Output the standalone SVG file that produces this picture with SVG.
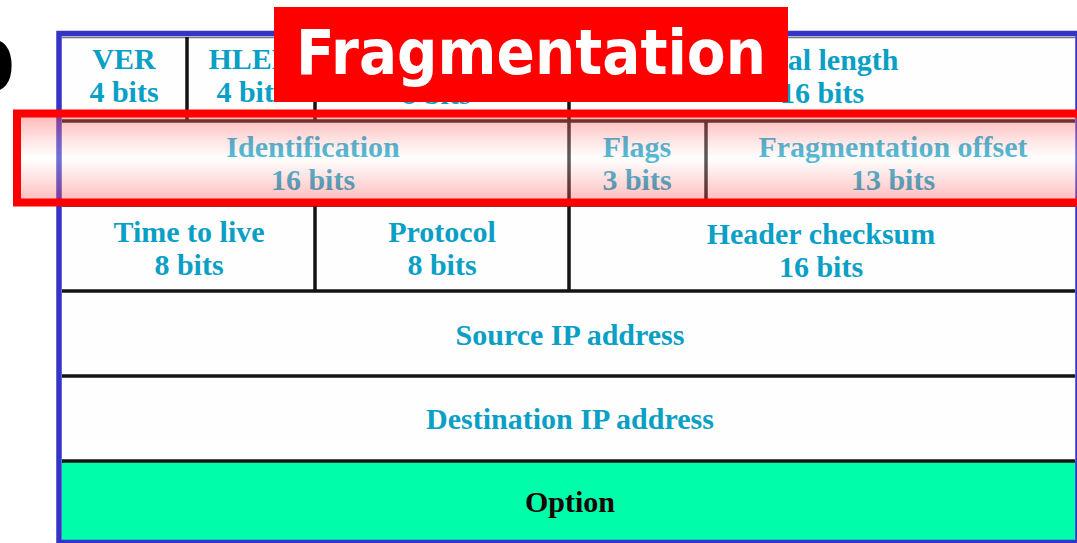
<svg xmlns="http://www.w3.org/2000/svg" width="1077" height="543" viewBox="0 0 1077 543">
  <defs>
    <style>
      .cell { fill: #fefefe; }
      .fld { font-family: "Liberation Serif", "Times New Roman", serif; font-weight: bold; font-size: 30px; fill: #0a9fc5; text-anchor: middle; }
      .opt { fill: #1a0303; }
      .rule { stroke: #141414; stroke-width: 3.5; fill: none; }
      .title { font-family: "DejaVu Sans", Verdana, sans-serif; font-weight: bold; font-size: 62px; fill: #ffffff; }
    </style>
    <linearGradient id="glow" x1="0" y1="0" x2="0" y2="1">
      <stop offset="0" stop-color="#ff3c3c" stop-opacity="0.4"/>
      <stop offset="0.5" stop-color="#ffffff" stop-opacity="0.3"/>
      <stop offset="1" stop-color="#ff3c3c" stop-opacity="0.36"/>
    </linearGradient>
  </defs>

  <rect x="0" y="0" width="1077" height="543" fill="#ffffff"/>

  <!-- cut-off glyph at the left edge -->
  <text x="15" y="91" text-anchor="end" font-family="DejaVu Sans, sans-serif" font-weight="bold" font-size="70" fill="#000000">0</text>

  <!-- header table frame and row backgrounds -->
  <g id="table-frame">
    <rect class="cell" x="62" y="36" width="1014" height="425"/>
    <rect x="62" y="461" width="1014" height="80" fill="#00fdaa"/>
    <rect x="59" y="33.5" width="1019" height="509" fill="none" stroke="#3434c8" stroke-width="5.5"/>
    <line x1="62" y1="37.5" x2="1075" y2="37.5" stroke="#7a7a7a" stroke-width="1.5"/>
  </g>

  <!-- grid lines between the header fields -->
  <g id="grid-lines" class="rule">
    <line x1="62" y1="121" x2="1075" y2="121"/>
    <line x1="62" y1="205" x2="1075" y2="205"/>
    <line x1="62" y1="291" x2="1075" y2="291"/>
    <line x1="62" y1="376" x2="1075" y2="376"/>
    <line x1="62" y1="461" x2="1075" y2="461"/>
    <line x1="187" y1="37" x2="187" y2="121"/>
    <line x1="315" y1="37" x2="315" y2="121"/>
    <line x1="569" y1="37" x2="569" y2="121"/>
    <line x1="569" y1="121" x2="569" y2="205"/>
    <line x1="706" y1="121" x2="706" y2="205"/>
    <line x1="315" y1="205" x2="315" y2="291"/>
    <line x1="569" y1="205" x2="569" y2="291"/>
  </g>

  <g id="ver"><text class="fld" x="124" y="69">VER</text><text class="fld" x="124" y="102">4 bits</text></g>
  <g id="hlen"><text class="fld" x="251" y="69">HLEN</text><text class="fld" x="251" y="102">4 bits</text></g>
  <g id="service"><text class="fld" x="436" y="104">8 bits</text></g>
  <g id="total-length"><text class="fld" x="822" y="70">Total length</text><text class="fld" x="822" y="103">16 bits</text></g>

  <g id="identification"><text class="fld" x="313" y="157">Identification</text><text class="fld" x="313" y="190">16 bits</text></g>
  <g id="flags"><text class="fld" x="637" y="157">Flags</text><text class="fld" x="637" y="190">3 bits</text></g>
  <g id="frag-offset"><text class="fld" x="893" y="157">Fragmentation offset</text><text class="fld" x="893" y="190">13 bits</text></g>

  <g id="ttl"><text class="fld" x="189" y="242">Time to live</text><text class="fld" x="189" y="275">8 bits</text></g>
  <g id="protocol"><text class="fld" x="442" y="242">Protocol</text><text class="fld" x="442" y="275">8 bits</text></g>
  <g id="checksum"><text class="fld" x="821" y="244">Header checksum</text><text class="fld" x="821" y="277">16 bits</text></g>

  <g id="source-ip"><text class="fld" x="570" y="345">Source IP address</text></g>
  <g id="destination-ip"><text class="fld" x="570" y="429">Destination IP address</text></g>
  <g id="option"><text class="fld opt" x="570" y="512">Option</text></g>

  <!-- highlight over the fragmentation row -->
  <g id="highlight">
    <rect x="17" y="113.5" width="1075" height="89" fill="url(#glow)" stroke="#ff0000" stroke-width="8"/>
  </g>

  <!-- title badge -->
  <g id="title">
    <rect x="274" y="7" width="514" height="95" fill="#ff0000"/>
    <text class="title" x="296" y="74" textLength="470" lengthAdjust="spacingAndGlyphs">Fragmentation</text>
  </g>
</svg>
